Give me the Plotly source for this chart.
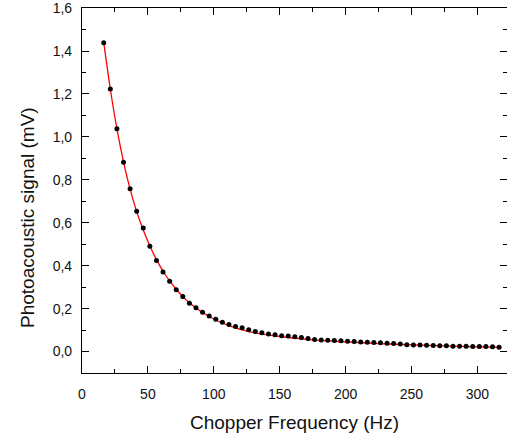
import plotly.graph_objects as go

# Measured data (chopper frequency in Hz, signal in mV)
freq_hz = [16.5 + 5 * k for k in range(61)]
signal_mv = [
    1.439, 1.223, 1.038, 0.882, 0.758, 0.653, 0.575, 0.490, 0.424, 0.371,
    0.328, 0.288, 0.256, 0.225, 0.204, 0.183, 0.165, 0.150, 0.136, 0.126,
    0.117, 0.111, 0.101, 0.093, 0.088, 0.082, 0.078, 0.074, 0.072, 0.069,
    0.065, 0.061, 0.056, 0.054, 0.053, 0.051, 0.050, 0.048, 0.047, 0.044,
    0.043, 0.042, 0.041, 0.039, 0.037, 0.035, 0.032, 0.031, 0.031, 0.029,
    0.028, 0.027, 0.027, 0.025, 0.025, 0.025, 0.023, 0.023, 0.023, 0.022,
    0.020,
]

# Fitted curve
fit_x = [16.5, 21.5, 26.5, 31.5, 36.5, 41.5, 46.5, 51.5, 56.5, 61.5, 66.5,
         71.5, 76.5, 81.5, 86.5, 91.5, 101.5, 111.5, 126.5, 150, 175, 200,
         225, 250, 275, 300, 318]
fit_y = [1.440, 1.222, 1.038, 0.884, 0.757, 0.652, 0.566, 0.492, 0.428,
         0.374, 0.329, 0.290, 0.256, 0.227, 0.203, 0.182, 0.147, 0.121,
         0.093, 0.070, 0.054, 0.045, 0.037, 0.031, 0.026, 0.022, 0.020]

x_ticks = [0, 50, 100, 150, 200, 250, 300]
y_ticks = [0.0, 0.2, 0.4, 0.6, 0.8, 1.0, 1.2, 1.4, 1.6]

FONT = "Liberation Sans, Arial, sans-serif"

fig = go.Figure()
fig.add_trace(go.Scatter(
    x=fit_x, y=fit_y, mode="lines",
    line=dict(color="#ff0000", width=1.3, shape="spline", smoothing=0.8),
    hoverinfo="skip", showlegend=False,
))
fig.add_trace(go.Scatter(
    x=freq_hz, y=signal_mv, mode="markers",
    marker=dict(color="black", size=5),
    showlegend=False,
))

axis_common = dict(
    showgrid=False, zeroline=False,
    showline=True, linecolor="black", linewidth=1.2,
    mirror="ticks", ticks="inside", tickcolor="black", tickwidth=1.2,
    ticklen=7,
    tickfont=dict(family=FONT, size=14, color="#111"),
)

fig.update_xaxes(
    **axis_common,
    range=[0, 322.5], tickmode="array", tickvals=x_ticks,
    minor=dict(dtick=25, tick0=0, ticks="inside", ticklen=4,
               tickcolor="black", tickwidth=1.2),
    ticklabelstandoff=8,
    title=dict(text="Chopper Frequency (Hz)",
               font=dict(family=FONT, size=19, color="#111"), standoff=14),
)
fig.update_yaxes(
    **axis_common,
    range=[-0.1, 1.6005], tickmode="array", tickvals=y_ticks,
    tickformat=".1f",
    minor=dict(dtick=0.1, tick0=0, ticks="inside", ticklen=4,
               tickcolor="black", tickwidth=1.2),
    ticklabelstandoff=6,
)

fig.add_annotation(
    text="Photoacoustic signal (mV)", textangle=-90,
    xref="paper", yref="paper", x=-0.127, y=0.4247,
    xanchor="center", yanchor="middle", showarrow=False,
    font=dict(family=FONT, size=19, color="#111"),
)

fig.update_layout(
    width=507, height=437,
    margin=dict(l=82, r=0, t=8, b=64),
    paper_bgcolor="white", plot_bgcolor="white",
    separators=",.",
    showlegend=False,
)

fig.write_html(
    "out.html",
    config={"displayModeBar": False},
    post_script="document.body.style.margin='0';document.body.style.padding='0';document.body.style.overflow='hidden';",
)
